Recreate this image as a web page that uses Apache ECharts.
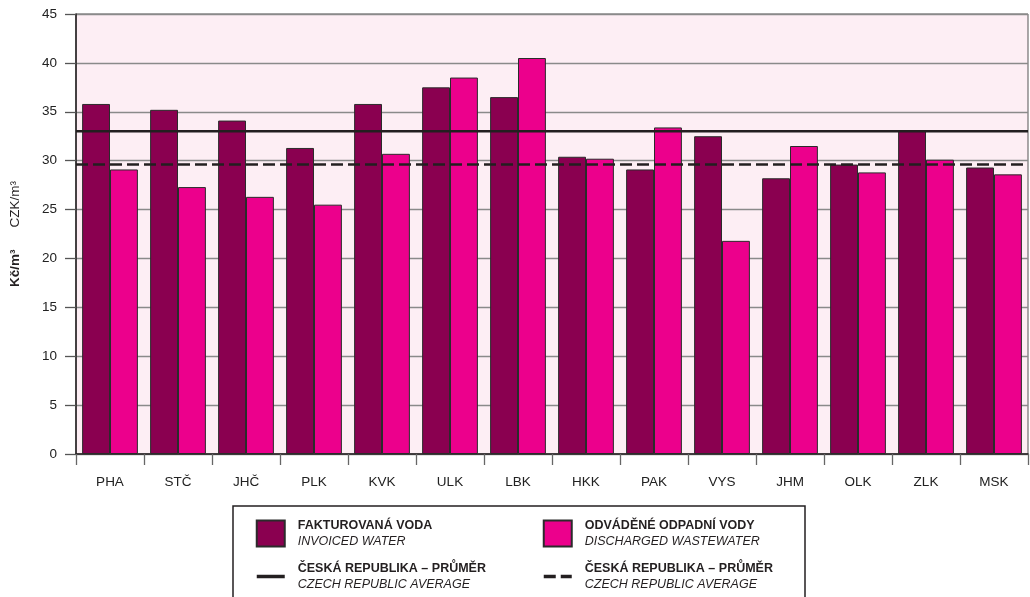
<!DOCTYPE html>
<html>
<head>
<meta charset="utf-8">
<script src="https://cdn.jsdelivr.net/npm/echarts@6/dist/echarts.min.js"></script>
<style>
  html, body { margin: 0; padding: 0; background: #fff; }
  #chart { width: 1030px; height: 597px; }
</style>
</head>
<body>
<div id="chart"></div>
<script>
// kraje
const regions = ['PHA', 'STČ', 'JHČ', 'PLK', 'KVK', 'ULK', 'LBK', 'HKK', 'PAK', 'VYS', 'JHM', 'OLK', 'ZLK', 'MSK']
// fakturovaná voda (Kč/m3)
const invoicedWater = [35.8, 35.2, 34.1, 31.3, 35.8, 37.5, 36.5, 30.4, 29.1, 32.5, 28.2, 29.6, 33.1, 29.3]
// odváděné odpadní vody (Kč/m3)
const dischargedWastewater = [29.1, 27.3, 26.3, 25.5, 30.7, 38.5, 40.5, 30.2, 33.4, 21.8, 31.5, 28.8, 30.1, 28.6]
// průměr ČR
const avgInvoiced = 33.0
const avgDischarged = 29.6
const yTicks = { min: 0, max: 45, interval: 5 }

const DARK = '#8A0050'
const PINK = '#EC008C'
const INK = '#231F20'

const chart = echarts.init(document.getElementById('chart'))

const legendRich = {
  b: { fontFamily: 'Liberation Sans', fontWeight: 'bold', fontSize: 12.5, color: INK, lineHeight: 16 },
  i: { fontFamily: 'Liberation Sans', fontStyle: 'italic', fontSize: 12.5, color: INK, lineHeight: 16 }
}
const legendLabels = {
  inv: ['FAKTUROVANÁ VODA', 'INVOICED WATER'],
  dis: ['ODVÁDĚNÉ ODPADNÍ VODY', 'DISCHARGED WASTEWATER'],
  avgInv: ['ČESKÁ REPUBLIKA – PRŮMĚR', 'CZECH REPUBLIC AVERAGE'],
  avgDis: ['ČESKÁ REPUBLIKA – PRŮMĚR', 'CZECH REPUBLIC AVERAGE']
}
const legendFmt = name => '{b|' + legendLabels[name][0] + '}\n{i|' + legendLabels[name][1] + '}'

//legenda - pro čáry schovat symbol, nechat jen čáru
const lineItem = name => ({ name: name, itemStyle: { opacity: 0 }, lineStyle: { width: 3.5 } })

const option = {
  animation: false,
  textStyle: { fontFamily: 'Liberation Sans' },
  grid: {
    left: 76, right: 2, top: 14, bottom: 143,
    show: true,
    backgroundColor: '#FDEEF4',
    borderColor: '#555',
    borderWidth: 1
  },
  legend: [
    {
      data: [{ name: 'inv', icon: 'rect' }, lineItem('avgInv')],
      orient: 'vertical',
      left: 250, top: 514,
      itemWidth: 28, itemHeight: 26,
      itemGap: 14,
      formatter: legendFmt,
      textStyle: { rich: legendRich, padding: [0, 0, 0, 8] },
      selectedMode: false
    },
    {
      data: [{ name: 'dis', icon: 'rect' }, lineItem('avgDis')],
      orient: 'vertical',
      left: 537, top: 514,
      itemWidth: 28, itemHeight: 26,
      itemGap: 14,
      formatter: legendFmt,
      textStyle: { rich: legendRich, padding: [0, 0, 0, 8] },
      selectedMode: false
    }
  ],
  graphic: [
    {
      type: 'rect',
      shape: { x: 233, y: 506, width: 572, height: 100 },
      style: { fill: 'none', stroke: INK, lineWidth: 1.5 },
      silent: true
    }
  ],
  xAxis: [
    {
      type: 'category',
      data: regions,
      axisLine: { lineStyle: { color: INK, width: 1.5 } },
      axisTick: { show: true, length: 11, lineStyle: { color: '#666', width: 1.3 } },
      axisLabel: { color: '#222', fontSize: 13.5, margin: 21 }
    },
    {
      type: 'value',
      min: 0, max: 1,
      show: false
    }
  ],
  yAxis: {
    type: 'value',
    min: yTicks.min, max: yTicks.max, interval: yTicks.interval,
    axisLine: { show: true, lineStyle: { color: INK, width: 1.5 } },
    axisTick: { show: true, length: 11, lineStyle: { color: '#555', width: 1.3 } },
    splitLine: { lineStyle: { color: '#8a8a8a', width: 1.3 } },
    axisLabel: { color: '#222', fontSize: 13.5, margin: 19 },
    name: '{b|Kč/m³}{n|CZK/m³}',
    nameLocation: 'middle',
    nameRotate: 90,
    nameGap: 54,
    nameTextStyle: {
      rich: {
        b: { fontWeight: 'bold', fontSize: 13.5, color: INK },
        n: { fontSize: 13.5, color: INK, padding: [0, 0, 0, 22] }
      }
    }
  },
  series: [
    {
      name: 'inv',
      type: 'bar',
      data: invoicedWater,
      barGap: 0,
      barCategoryGap: '18%',
      itemStyle: { color: DARK, borderColor: '#2b2b2b', borderWidth: 1 },
      z: 2
    },
    {
      name: 'dis',
      type: 'bar',
      data: dischargedWastewater,
      itemStyle: { color: PINK, borderColor: '#2b2b2b', borderWidth: 1 },
      z: 2
    },
    {
      name: 'avgInv',
      type: 'line',
      xAxisIndex: 1,
      data: [[0, avgInvoiced], [1, avgInvoiced]],
      symbol: 'none',
      lineStyle: { color: INK, width: 2.5, type: 'solid' },
      itemStyle: { color: INK },
      z: 5
    },
    {
      name: 'avgDis',
      type: 'line',
      xAxisIndex: 1,
      data: [[0, avgDischarged], [1, avgDischarged]],
      symbol: 'none',
      lineStyle: { color: INK, width: 2.5, type: [12, 5] },
      itemStyle: { color: INK },
      z: 5
    }
  ]
}

chart.setOption(option)
</script>
</body>
</html>
